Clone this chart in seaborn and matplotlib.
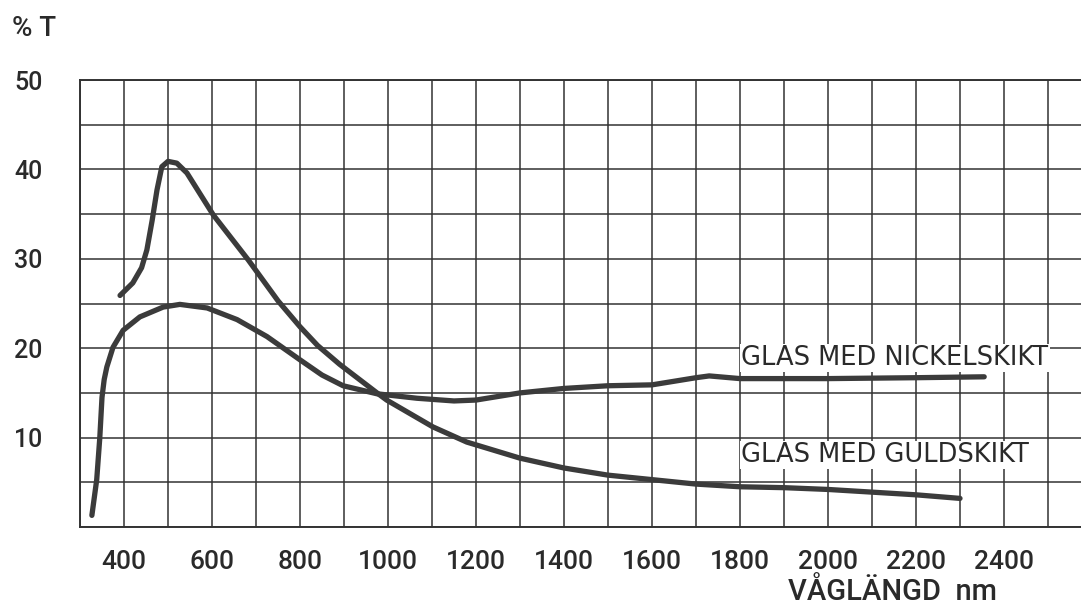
import matplotlib
matplotlib.use("Agg")
import matplotlib.pyplot as plt
import seaborn as sns
import pandas as pd
from matplotlib.ticker import MultipleLocator

# Data
gold_nm = [391, 420, 440, 452, 464, 475, 486, 500, 520, 543, 603, 682, 750, 800, 840, 890,
           975, 997, 1102, 1179, 1300, 1400, 1500, 1600, 1700, 1800, 1900, 2000, 2100, 2200, 2300]
gold_T = [25.9, 27.3, 29.0, 31.0, 34.3, 37.7, 40.3, 40.9, 40.7, 39.6, 34.9, 29.9, 25.3, 22.4, 20.3, 18.2,
          15.0, 14.2, 11.2, 9.5, 7.7, 6.6, 5.8, 5.3, 4.8, 4.5, 4.4, 4.2, 3.9, 3.6, 3.2]

nickel_nm = [327, 338, 345, 350, 355, 361, 375, 398, 436, 489, 527, 589, 657, 725, 800, 850, 898,
             975, 1066, 1150, 1200, 1300, 1400, 1500, 1600, 1700, 1730, 1800, 2000, 2200, 2355]
nickel_T = [1.3, 5.3, 10.0, 14.5, 16.5, 17.9, 20.1, 22.0, 23.5, 24.6, 24.9, 24.5, 23.2, 21.3, 18.7, 17.0, 15.8,
            14.9, 14.4, 14.1, 14.2, 15.0, 15.5, 15.8, 15.9, 16.7, 16.9, 16.6, 16.6, 16.7, 16.8]

x_ticks = [400, 600, 800, 1000, 1200, 1400, 1600, 1800, 2000, 2200, 2400]
y_ticks = [10, 20, 30, 40, 50]
label_nickel = "GLAS MED NICKELSKIKT"
label_gold = "GLAS MED GULDSKIKT"
x_title = "VÅGLÄNGD  nm"
y_title = "% T"

sns.set_style("white")
plt.rcParams["font.family"] = ["Roboto", "DejaVu Sans"]
plt.rcParams["font.weight"] = "medium"

ink = "#3b3b3b"
txt = "#2a2a2a"
fig = plt.figure(figsize=(10.81, 6.16), dpi=100)
ax = fig.add_axes([80 / 1081, 1 - 527 / 616, 1 - 80 / 1081, (527 - 80) / 616])

df_g = pd.DataFrame({"nm": gold_nm, "T": gold_T})
df_n = pd.DataFrame({"nm": nickel_nm, "T": nickel_T})
lw = 3.8
sns.lineplot(data=df_g, x="nm", y="T", ax=ax, color=ink, lw=lw, estimator=None,
             solid_capstyle="round", solid_joinstyle="round")
sns.lineplot(data=df_n, x="nm", y="T", ax=ax, color=ink, lw=lw, estimator=None,
             solid_capstyle="round", solid_joinstyle="round")

ax.set_xlim(300, 2575)
ax.set_ylim(0, 50)
ax.set_xticks(x_ticks)
ax.set_yticks(y_ticks)
ax.xaxis.set_minor_locator(MultipleLocator(100))
ax.yaxis.set_minor_locator(MultipleLocator(5))
ax.grid(True, which="both", color="#333333", lw=1.1)
ax.set_axisbelow(True)
ax.tick_params(which="both", length=0)
ax.tick_params(axis="x", pad=16.5, labelsize=19, colors=txt)
ax.tick_params(axis="y", pad=27, labelsize=18, colors=txt)
for s in ["left", "bottom", "top"]:
    ax.spines[s].set_color("#333333")
    ax.spines[s].set_linewidth(1.4)
ax.spines["right"].set_visible(False)
ax.set_xlabel("")
ax.set_ylabel("")

lab_kw = dict(fontsize=18.5, color=txt, va="center", ha="left",
              family=["DejaVu Sans"], fontweight="normal",
              bbox=dict(facecolor="white", edgecolor="none", pad=1))
ax.text(1803, 18.9, label_nickel, **lab_kw)
ax.text(1803, 8.05, label_gold, **lab_kw)

fig.text(893 / 1081, 1 - 592 / 616, x_title, fontsize=21, color=txt,
         ha="center", va="center")
fig.text(12 / 1081, 1 - 28 / 616, y_title, fontsize=20, color=txt,
         ha="left", va="center")

fig.savefig("out.png", dpi=100)
